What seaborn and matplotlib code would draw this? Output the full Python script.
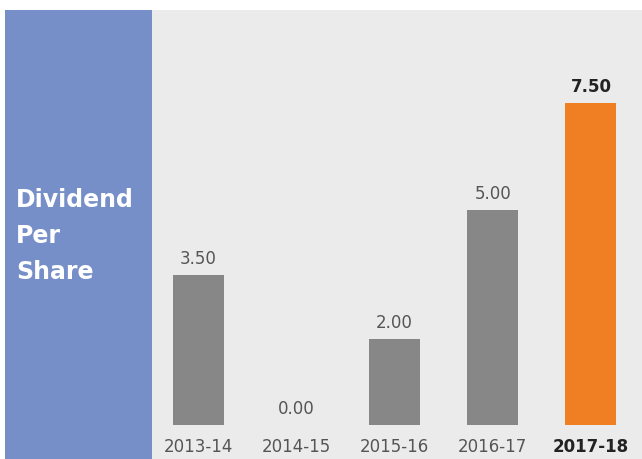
"""
Dividend per share bar chart
"""

import matplotlib
matplotlib.use("Agg")
import matplotlib.pyplot as plt
import seaborn as sns
from matplotlib.patches import Rectangle

years = ['2013-14', '2014-15', '2015-16', '2016-17', '2017-18']
dividend = [3.50, 0.00, 2.00, 5.00, 7.50]
bar_colors = ['#878787', '#878787', '#878787', '#878787', '#ef7f22']

sns.set_style("white")
plt.rcParams['font.family'] = ['DejaVu Sans Condensed', 'DejaVu Sans']

W, H = 642, 459
fig = plt.figure(figsize=(W / 100, H / 100), dpi=100)
fig.patch.set_facecolor('white')

# background panels
fig.patches.append(Rectangle((152 / W, 0), 1 - 152 / W, 449 / H, transform=fig.transFigure,
                             facecolor='#ebebeb', edgecolor='none', zorder=-10))
fig.patches.append(Rectangle((5 / W, 0), 147 / W, 449 / H, transform=fig.transFigure,
                             facecolor='#778fc9', edgecolor='none', zorder=-10))

fig.text(16 / W, 1 - 236 / H, 'Dividend\nPer\nShare', color='white', fontsize=17,
         fontweight='bold', va='center', ha='left', linespacing=1.65)

ax = fig.add_axes([152 / W, 34 / H, 490 / W, 415 / H])
ax.set_facecolor('none')

sns.barplot(x=years, y=dividend, hue=years, palette=bar_colors, legend=False,
            width=0.52, saturation=1, linewidth=0, ax=ax)

ax.set_xlim(-0.47, 4.52)
ax.set_ylim(0, 9.67)
for s in ax.spines.values():
    s.set_visible(False)
ax.set_yticks([])
ax.tick_params(axis='x', length=0, pad=9, labelsize=12, labelcolor='#555555')
ax.set_xlabel('')
ax.set_ylabel('')
ticks = ax.get_xticklabels()
ticks[-1].set_fontweight('bold')
ticks[-1].set_color('#222222')

for i, v in enumerate(dividend):
    last = i == len(dividend) - 1
    ax.annotate(f'{v:.2f}', (i, v), xytext=(0, 5), textcoords='offset points',
                ha='center', va='bottom', fontsize=12,
                fontweight='bold' if last else 'normal',
                color='#222222' if last else '#555555')

fig.savefig('out.png', dpi=100)
